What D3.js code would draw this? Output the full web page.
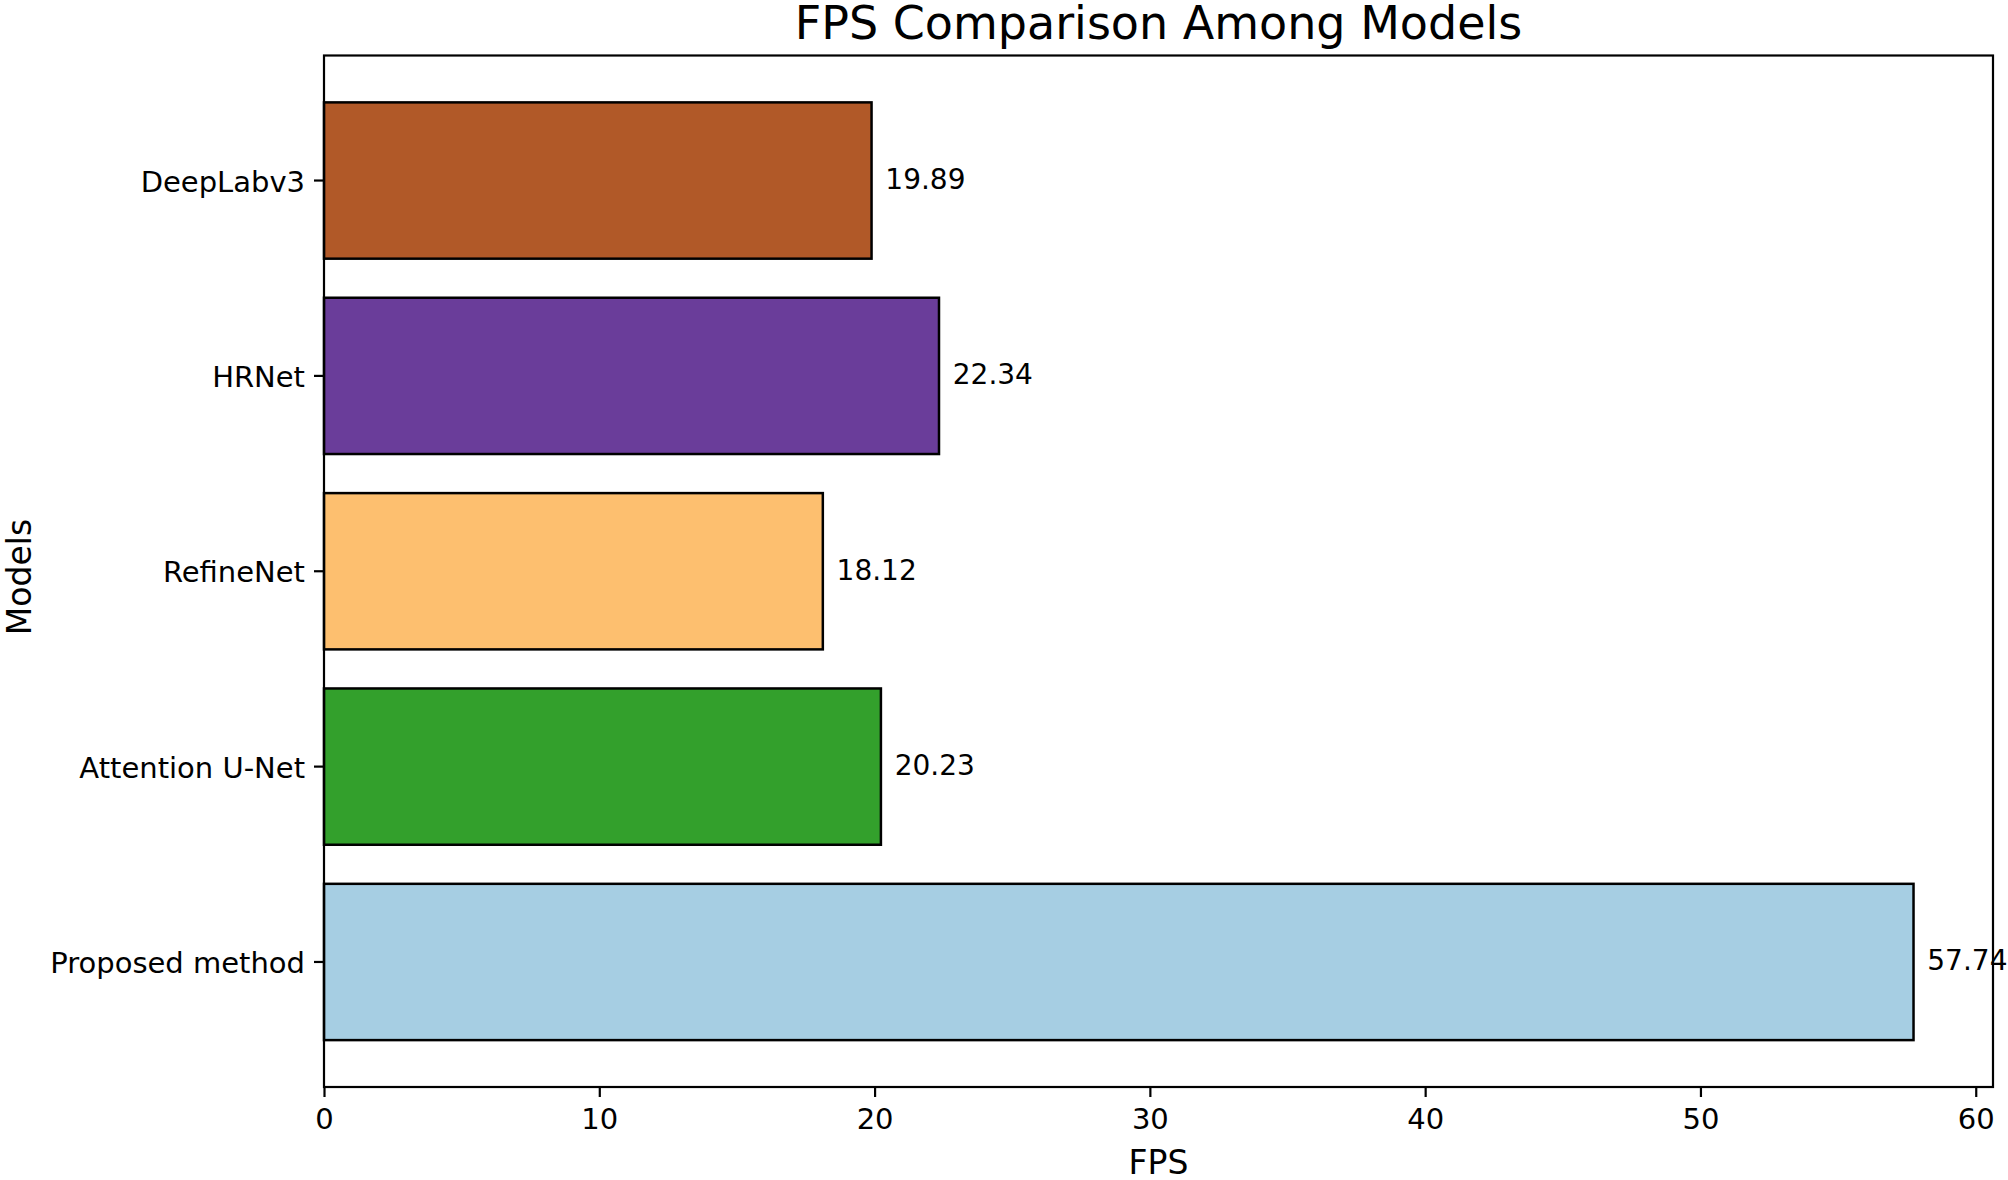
<!DOCTYPE html>
<html>
<head>
<meta charset="utf-8">
<script src="https://cdn.jsdelivr.net/npm/d3@7"></script>
<style>
  html, body { margin: 0; padding: 0; background: #fff; }
  svg { display: block; }
  text { font-family: "DejaVu Sans", sans-serif; fill: #000; }
</style>
</head>
<body>
<svg id="chart" width="2008" height="1180"></svg>
<script>
// Data (bottom to top, as drawn)
const models = ["Proposed method", "Attention U-Net", "RefineNet", "HRNet", "DeepLabv3"];
const fps = [57.74, 20.23, 18.12, 22.34, 19.89];
const colors = ["#a6cee3", "#33a02c", "#fdbf6f", "#6a3d9a", "#b15928"];
const xTicks = [0, 10, 20, 30, 40, 50, 60];
const titleText = "FPS Comparison Among Models";
const xLabel = "FPS";
const yLabel = "Models";

const W = 2008, H = 1180;
const m = { left: 324, right: 1993, top: 55.5, bottom: 1087 };

const svg = d3.select("#chart");

const xMax = d3.max(fps) * 1.05;
const x = d3.scaleLinear().domain([0, xMax]).range([m.left, m.right]);
const y = d3.scaleBand()
  .domain(models.slice().reverse())
  .range([m.top, m.bottom])
  .paddingInner(0.2)
  .paddingOuter(0.24);

const data = models.map((d, i) => ({ name: d, value: fps[i], color: colors[i] }));

// Bars
svg.append("g").selectAll("rect")
  .data(data)
  .join("rect")
  .attr("x", x(0))
  .attr("y", d => y(d.name))
  .attr("width", d => x(d.value) - x(0))
  .attr("height", y.bandwidth())
  .attr("fill", d => d.color)
  .attr("stroke", "#000")
  .attr("stroke-width", 2.5);

// Frame (spines)
svg.append("rect")
  .attr("x", m.left).attr("y", m.top)
  .attr("width", m.right - m.left).attr("height", m.bottom - m.top)
  .attr("fill", "none").attr("stroke", "#000").attr("stroke-width", 2.2);

// X axis
const xAxis = d3.axisBottom(x).tickValues(xTicks).tickSize(10).tickPadding(11).tickFormat(d3.format("d"));
const gx = svg.append("g").attr("transform", `translate(0,${m.bottom})`).call(xAxis);
gx.select(".domain").remove();
gx.selectAll(".tick line").attr("stroke", "#000").attr("stroke-width", 2.2);
gx.selectAll(".tick text").attr("font-size", 29).attr("font-family", "DejaVu Sans").attr("fill", "#000");

// Y axis
const yAxis = d3.axisLeft(y).tickSize(10).tickPadding(9);
const gy = svg.append("g").attr("transform", `translate(${m.left},0)`).call(yAxis);
gy.select(".domain").remove();
gy.selectAll(".tick line").attr("stroke", "#000").attr("stroke-width", 2.2);
gy.selectAll(".tick text").attr("font-size", 29).attr("font-family", "DejaVu Sans").attr("fill", "#000").attr("dy", "0.38em");

// Value labels
svg.append("g").selectAll("text")
  .data(data)
  .join("text")
  .attr("x", d => x(d.value + 0.5))
  .attr("y", d => y(d.name) + y.bandwidth() / 2)
  .attr("dy", "0.3em")
  .attr("font-size", 28)
  .text(d => d.value.toFixed(2));

// Title
svg.append("text")
  .attr("x", (m.left + m.right) / 2)
  .attr("y", 39)
  .attr("text-anchor", "middle")
  .attr("font-size", 46)
  .text(titleText);

// Axis labels
svg.append("text")
  .attr("x", (m.left + m.right) / 2)
  .attr("y", 1174)
  .attr("text-anchor", "middle")
  .attr("font-size", 33)
  .text(xLabel);

svg.append("text")
  .attr("transform", `translate(31,577) rotate(-90)`)
  .attr("text-anchor", "middle")
  .attr("font-size", 33)
  .text(yLabel);
</script>
</body>
</html>
